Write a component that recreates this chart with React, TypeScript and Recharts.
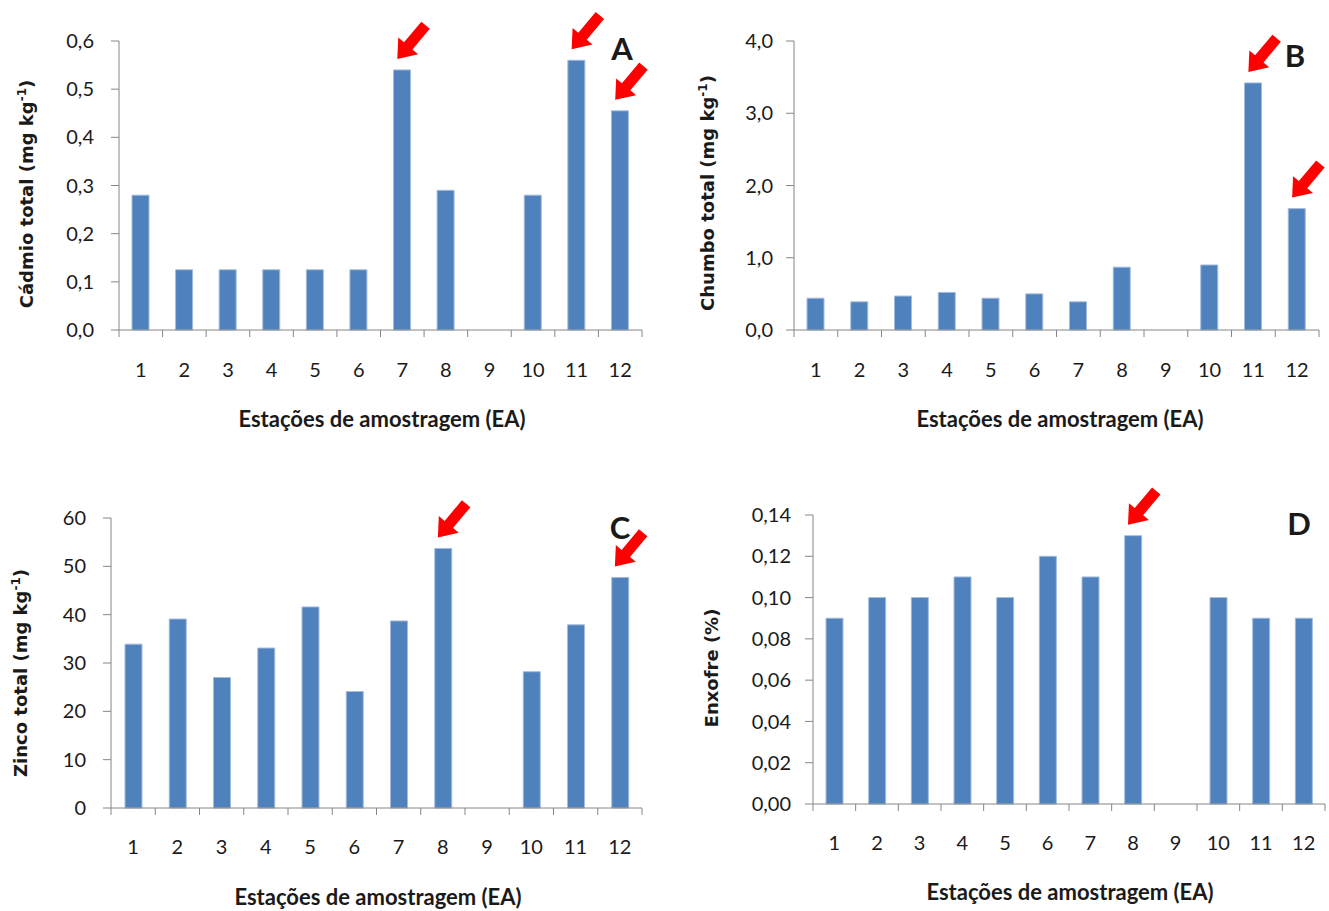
import React from "react";
import { Bar, BarChart, ReferenceDot, XAxis, YAxis } from "recharts";

const categories = ["1", "2", "3", "4", "5", "6", "7", "8", "9", "10", "11", "12"];

// station 9 has no value in any panel
const cadmio = [0.28, 0.125, 0.125, 0.125, 0.125, 0.125, 0.54, 0.29, null, 0.28, 0.56, 0.455];
const chumbo = [0.44, 0.39, 0.47, 0.52, 0.44, 0.5, 0.39, 0.87, null, 0.9, 3.42, 1.68];
const zinco = [33.9, 39.1, 27.0, 33.1, 41.6, 24.1, 38.7, 53.7, null, 28.2, 37.9, 47.7];
const enxofre = [0.09, 0.1, 0.1, 0.11, 0.1, 0.12, 0.11, 0.13, null, 0.1, 0.09, 0.09];

const cadmioTicks = [0, 0.1, 0.2, 0.3, 0.4, 0.5, 0.6];
const chumboTicks = [0, 1, 2, 3, 4];
const zincoTicks = [0, 10, 20, 30, 40, 50, 60];
const enxofreTicks = [0, 0.02, 0.04, 0.06, 0.08, 0.1, 0.12, 0.14];

const cadmioArrows = ["7", "11", "12"];
const chumboArrows = ["11", "12"];
const zincoArrows = ["8", "12"];
const enxofreArrows = ["8"];

const FONT = "Lato, 'Open Sans', sans-serif";
const YFONT = "'DejaVu Sans', Verdana, sans-serif";
const AXIS = "#868686";
const BAR = "#4F81BD";
const TEXT = "#1a1a1a";

const comma = (digits: number) => (v: number) => v.toFixed(digits).replace(".", ",");

const renderArrow = (props: any) => {
  const { cx, cy } = props;
  if (cx == null || cy == null) return <g />;
  return (
    <polygon
      points="0,0 -17,-13 -17,-5.5 -44,-5.5 -44,5.5 -17,5.5 -17,13"
      fill="#FF0000"
      transform={`translate(${cx - 5},${cy - 11}) rotate(130)`}
    />
  );
};

// category label plus Excel-style tick marks between categories
const makeCatTick = (margin: number) => (props: any) => {
  const { x, y, payload, width, visibleTicksCount, index } = props;
  const band = width / visibleTicksCount;
  const axisY = y - margin;
  const left = x - band / 2;
  const right = x + band / 2;
  return (
    <g>
      <line x1={left} y1={axisY} x2={left} y2={axisY + 7} stroke={AXIS} />
      {index === visibleTicksCount - 1 && <line x1={right} y1={axisY} x2={right} y2={axisY + 7} stroke={AXIS} />}
      <text x={x} y={y} dy="0.71em" textAnchor="middle" fill={TEXT} fontSize={20} fontFamily={FONT}>
        {payload.value}
      </text>
    </g>
  );
};

type PanelProps = {
  left: number;
  top: number;
  width: number;
  height: number;
  margin: { top: number; right: number; bottom: number; left: number };
  values: (number | null)[];
  ticks: number[];
  digits: number;
  arrows: string[];
  yTickMargin: number;
  xTickMargin: number;
};

function Panel({ left, top, width, height, margin, values, ticks, digits, arrows, yTickMargin, xTickMargin }: PanelProps) {
  const data = categories.map((ea, i) => ({ ea, v: values[i] }));
  return (
    <div style={{ position: "absolute", left, top }}>
      <BarChart width={width} height={height} data={data} margin={margin}>
        <XAxis
          dataKey="ea"
          type="category"
          stroke={AXIS}
          tickLine={false}
          tickSize={0}
          tickMargin={xTickMargin}
          height={40}
          interval={0}
          tick={makeCatTick(xTickMargin)}
        />
        <YAxis
          type="number"
          domain={[ticks[0], ticks[ticks.length - 1]]}
          ticks={ticks}
          interval={0}
          tickFormatter={comma(digits)}
          width={60}
          stroke={AXIS}
          tickSize={8}
          tickMargin={yTickMargin}
          tick={{ fill: TEXT, fontSize: 20, fontFamily: FONT }}
        />
        <Bar dataKey="v" fill={BAR} stroke="#a3bcdc" strokeWidth={1} barSize={17} isAnimationActive={false} />
        {arrows.map((a) => (
          <ReferenceDot
            key={a}
            x={a}
            y={values[categories.indexOf(a)] as number}
            ifOverflow="visible"
            shape={renderArrow}
          />
        ))}
      </BarChart>
    </div>
  );
}

const xTitle = "Estações de amostragem (EA)";

export default function App() {
  return (
    <div style={{ position: "absolute", left: 0, top: 0, width: 1329, height: 911, background: "#fff", fontFamily: FONT }}>
      <Panel
        left={0}
        top={0}
        width={664}
        height={450}
        margin={{ top: 41, right: 22, bottom: 80, left: 59 }}
        values={cadmio}
        ticks={cadmioTicks}
        digits={1}
        arrows={cadmioArrows}
        yTickMargin={17}
        xTickMargin={33}
      />
      <Panel
        left={664}
        top={0}
        width={665}
        height={450}
        margin={{ top: 41, right: 10, bottom: 80, left: 70 }}
        values={chumbo}
        ticks={chumboTicks}
        digits={1}
        arrows={chumboArrows}
        yTickMargin={13}
        xTickMargin={33}
      />
      <Panel
        left={0}
        top={450}
        width={664}
        height={461}
        margin={{ top: 68, right: 22, bottom: 63, left: 51 }}
        values={zinco}
        ticks={zincoTicks}
        digits={0}
        arrows={zincoArrows}
        yTickMargin={17}
        xTickMargin={32}
      />
      <Panel
        left={664}
        top={450}
        width={665}
        height={461}
        margin={{ top: 65, right: 4, bottom: 67, left: 89 }}
        values={enxofre}
        ticks={enxofreTicks}
        digits={2}
        arrows={enxofreArrows}
        yTickMargin={14}
        xTickMargin={32}
      />
      <svg width={1329} height={911} style={{ position: "absolute", left: 0, top: 0, pointerEvents: "none" }}>
        <g fontFamily={FONT} fontWeight="bold" fill={TEXT}>
          <text x={622} y={60} fontSize={31} textAnchor="middle">A</text>
          <text x={1295} y={67} fontSize={31} textAnchor="middle">B</text>
          <text x={620} y={539} fontSize={31} textAnchor="middle">C</text>
          <text x={1299} y={535} fontSize={31} textAnchor="middle">D</text>

          <text x={382} y={427} fontSize={22} textAnchor="middle">{xTitle}</text>
          <text x={1060} y={427} fontSize={22} textAnchor="middle">{xTitle}</text>
          <text x={378} y={905} fontSize={22} textAnchor="middle">{xTitle}</text>
          <text x={1070} y={900} fontSize={22} textAnchor="middle">{xTitle}</text>
        </g>
        <g fontFamily={YFONT} fontWeight="bold" fill={TEXT} fontSize={18} textAnchor="middle">
          <text x={33} y={194} transform="rotate(-90, 33, 194)">
            Cádmio total (mg kg<tspan dy={-7} fontSize={12}>-1</tspan><tspan dy={7}>)</tspan>
          </text>
          <text x={714} y={193} transform="rotate(-90, 714, 193)">
            Chumbo total (mg kg<tspan dy={-7} fontSize={12}>-1</tspan><tspan dy={7}>)</tspan>
          </text>
          <text x={27} y={673} transform="rotate(-90, 27, 673)">
            Zinco total (mg kg<tspan dy={-7} fontSize={12}>-1</tspan><tspan dy={7}>)</tspan>
          </text>
          <text x={718} y={668} transform="rotate(-90, 718, 668)">
            Enxofre (%)
          </text>
        </g>
      </svg>
    </div>
  );
}
